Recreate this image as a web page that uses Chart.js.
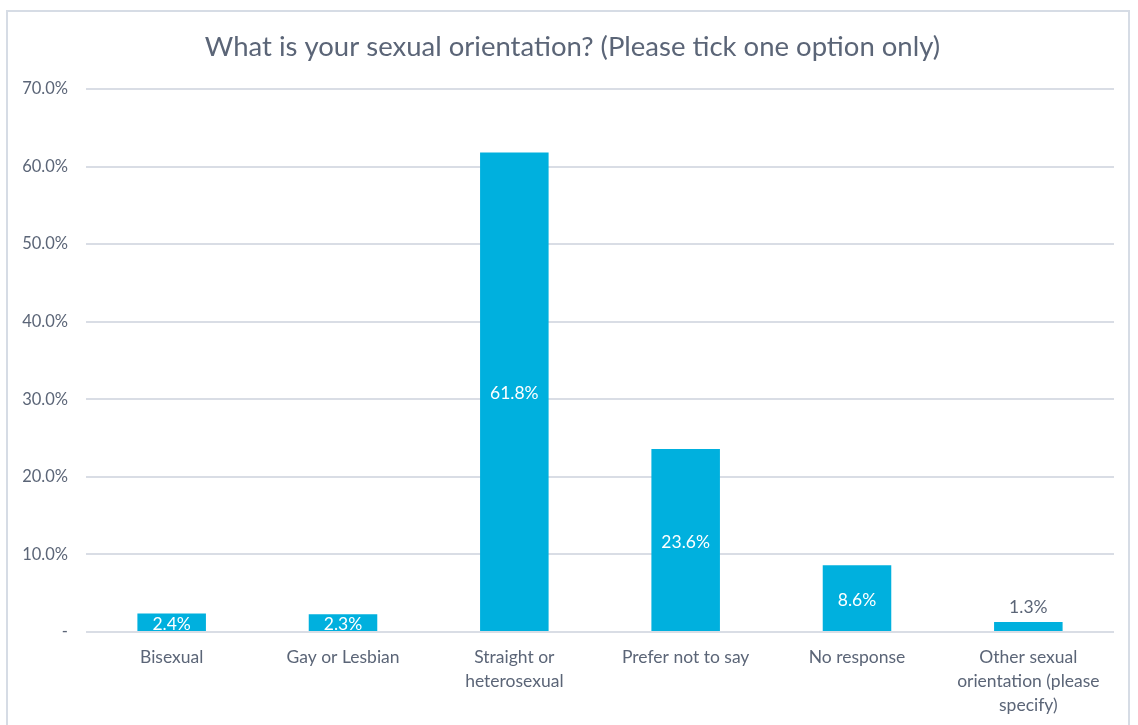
<!DOCTYPE html>
<html>
<head>
<meta charset="utf-8">
<script src="https://cdn.jsdelivr.net/npm/chart.js@4/dist/chart.umd.min.js"></script>
<style>
html,body{margin:0;padding:0;background:#fff;width:1138px;height:725px;overflow:hidden;}
#frame{position:absolute;left:6px;top:10px;width:1124px;height:740px;border:2px solid #D6DCE5;box-sizing:border-box;}
#wrap{position:absolute;left:0;top:0;width:1138px;height:725px;}
</style>
</head>
<body>
<div id="frame"></div>
<div id="wrap"><canvas id="c" width="1138" height="725"></canvas></div>
<script>
const categories = [
  "Bisexual",
  "Gay or Lesbian",
  ["Straight or", "heterosexual"],
  "Prefer not to say",
  "No response",
  ["Other sexual", "orientation (please", "specify)"]
];
const values = [2.4, 2.3, 61.8, 23.6, 8.6, 1.3];
const yTicks = [0, 10, 20, 30, 40, 50, 60, 70];
const titleText = "What is your sexual orientation? (Please tick one option only)";

const FONT = "Lato, 'Open Sans', sans-serif";
const TEXT = "#5B6577";

const labelPlugin = {
  id: 'valLabels',
  afterDatasetsDraw(chart) {
    const ctx = chart.ctx;
    const meta = chart.getDatasetMeta(0);
    ctx.save();
    ctx.font = "17.5px " + FONT;
    ctx.textAlign = 'center';
    ctx.textBaseline = 'middle';
    meta.data.forEach((bar, i) => {
      const v = values[i];
      const txt = v.toFixed(1) + '%';
      const h = bar.base - bar.y;
      if (h >= 14) {
        ctx.fillStyle = '#FFFFFF';
        ctx.fillText(txt, bar.x, (bar.y + bar.base) / 2 + 2);
      } else {
        ctx.fillStyle = TEXT;
        ctx.fillText(txt, bar.x, bar.y - 15);
      }
    });
    ctx.restore();
  }
};

new Chart(document.getElementById('c'), {
  type: 'bar',
  data: {
    labels: categories,
    datasets: [{
      data: values,
      backgroundColor: '#00B0DE',
      borderWidth: 0,
      categoryPercentage: 1.0,
      barPercentage: 0.4
    }]
  },
  options: {
    responsive: false,
    animation: false,
    events: [],
    layout: { padding: { left: 31, right: 24, top: 0, bottom: 0 } },
    plugins: {
      legend: { display: false },
      tooltip: { enabled: false },
      title: {
        display: true,
        text: titleText,
        color: TEXT,
        font: { family: FONT, size: 27.5, weight: 'normal', lineHeight: 1.2 },
        padding: { top: 31, bottom: 25 }
      }
    },
    scales: {
      x: {
        grid: { display: false, drawTicks: false },
        border: { display: false },
        ticks: {
          color: TEXT,
          font: { family: FONT, size: 17.5, lineHeight: 1.37 },
          padding: 13,
          maxRotation: 0,
          autoSkip: false
        },
        afterFit(scale) { scale.height = 93; }
      },
      y: {
        min: 0,
        max: 70,
        afterBuildTicks(scale) { scale.ticks = yTicks.map(v => ({ value: v })); },
        grid: { color: '#D9DDE5', lineWidth: 2, drawTicks: false },
        border: { display: false },
        ticks: {
          color: TEXT,
          font: { family: FONT, size: 16.5 },
          padding: 18,
          callback: (v) => v === 0 ? '-' : v.toFixed(1) + '%'
        },
        afterFit(scale) {
          scale.width = 55;
          scale._computeLabelArea = function () { return undefined; };
        }
      }
    }
  },
  plugins: [labelPlugin]
});
</script>
</body>
</html>
